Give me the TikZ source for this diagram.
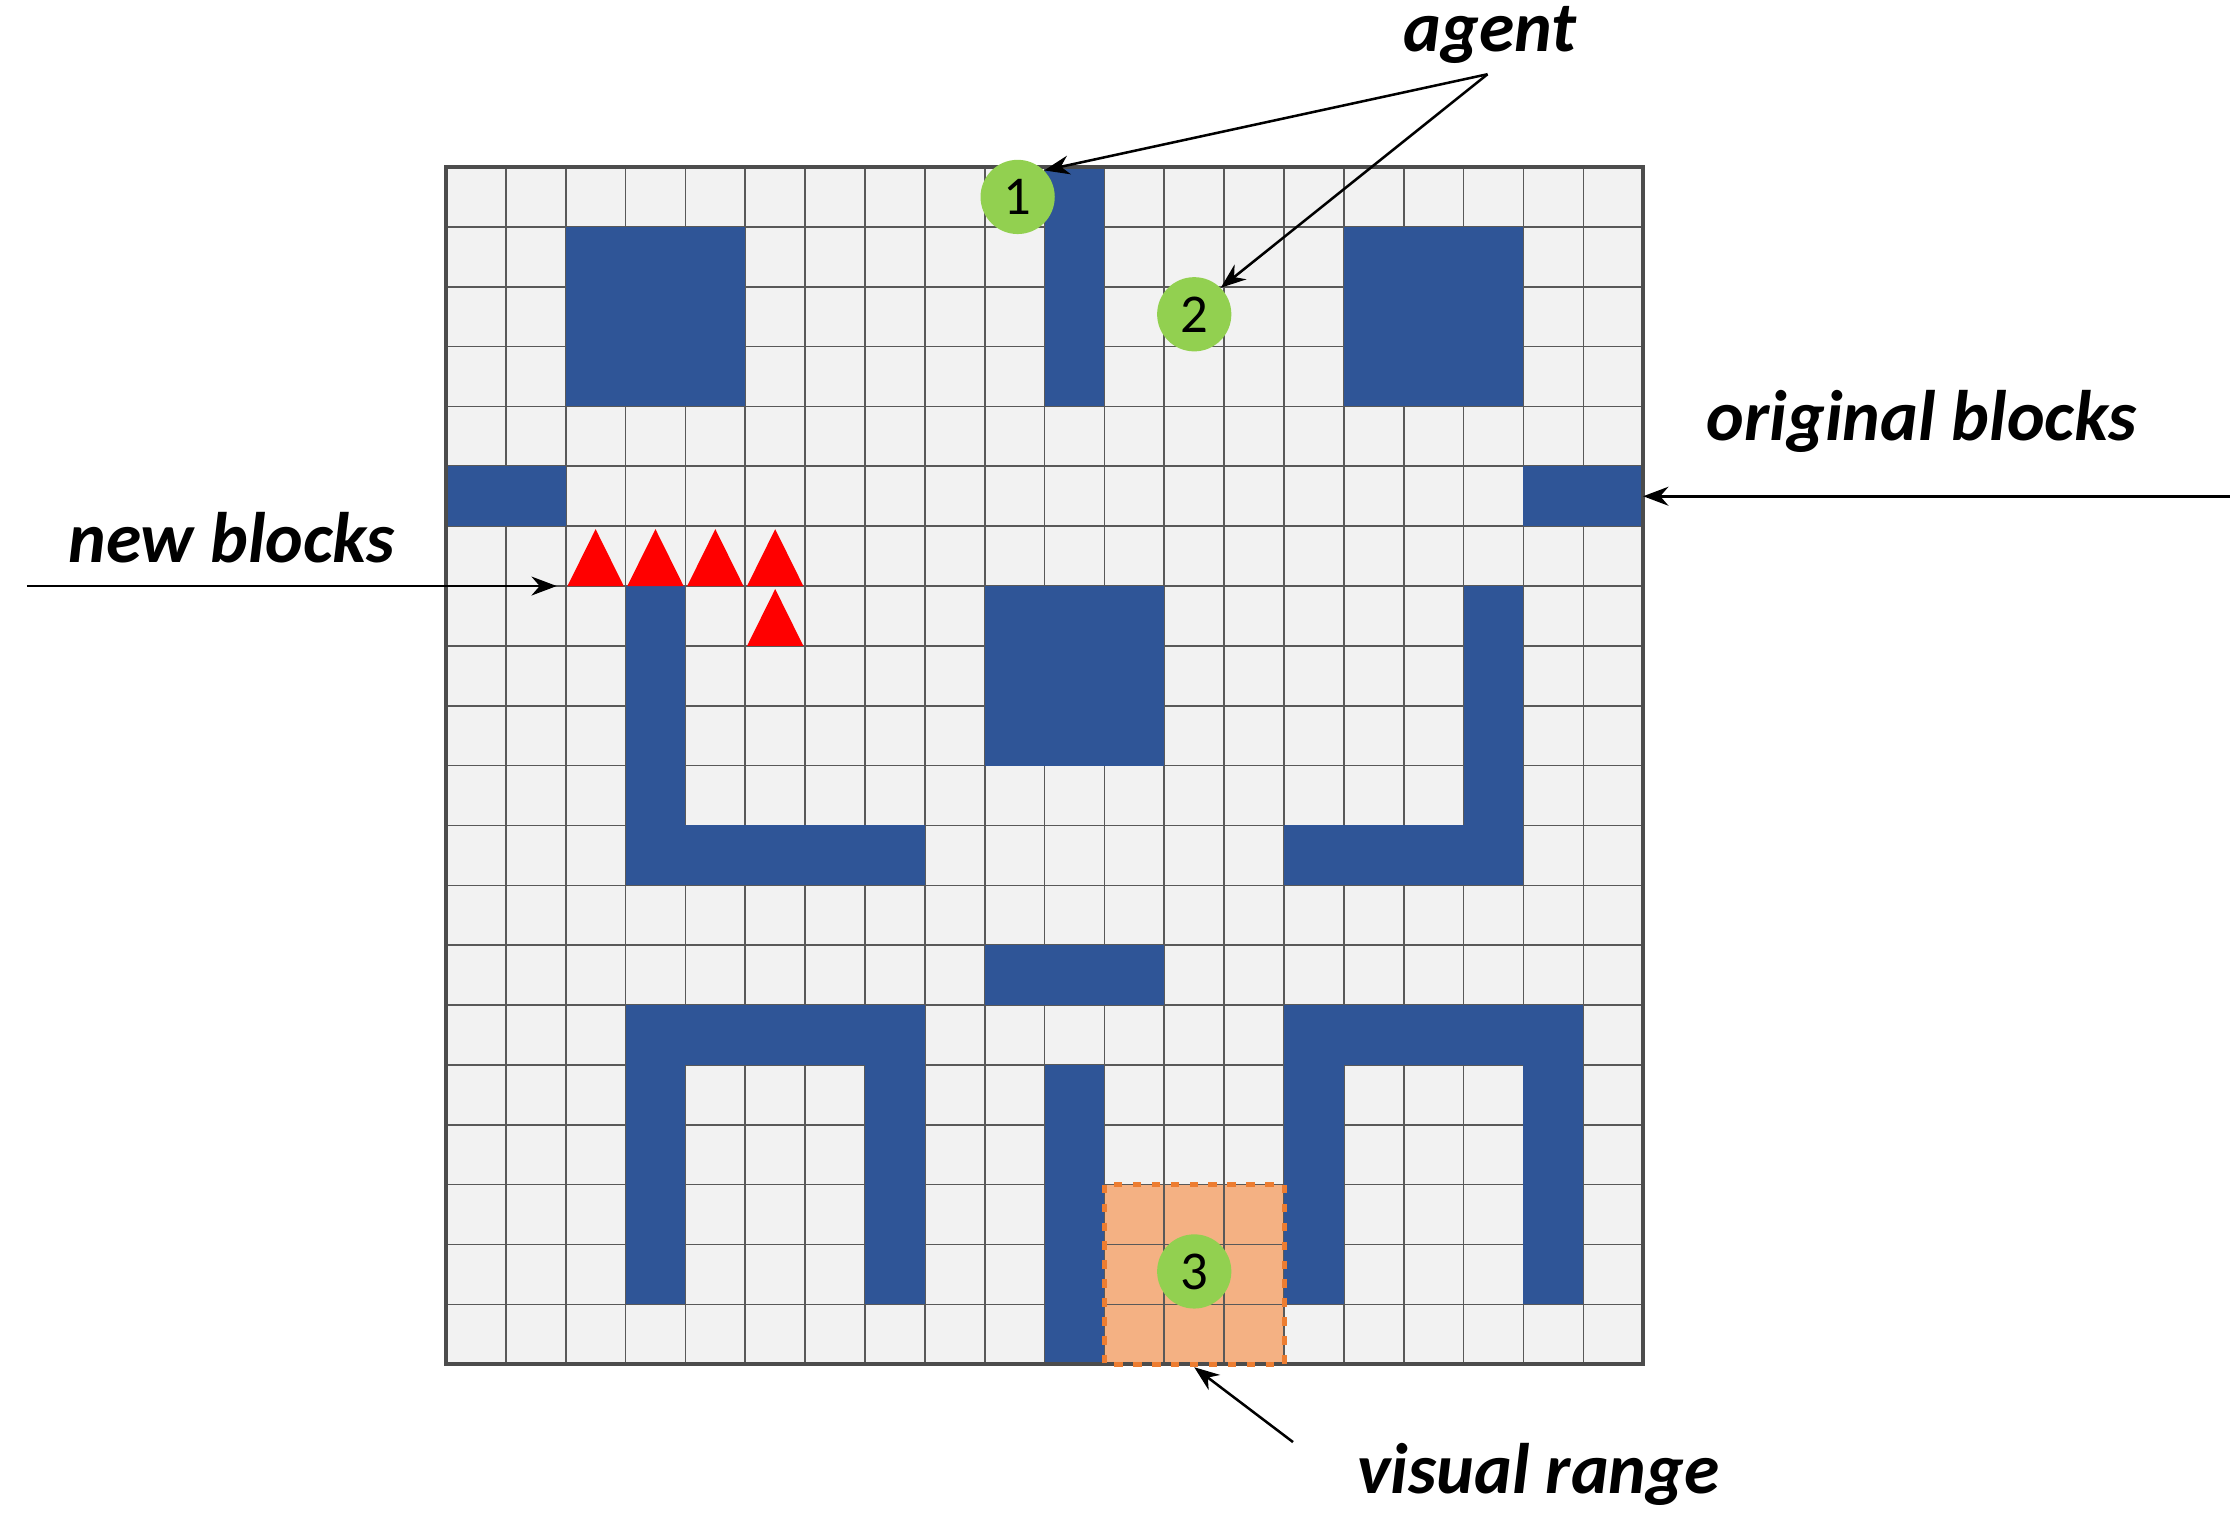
\documentclass[tikz,border=0pt]{standalone}
\usepackage{fontspec}
\setmainfont{Carlito}
\usetikzlibrary{arrows.meta}
\definecolor{cellbg}{HTML}{F2F2F2}
\definecolor{blk}{HTML}{2F5597}
\definecolor{agentg}{HTML}{92D050}
\definecolor{vis}{HTML}{F4B183}
\definecolor{visb}{HTML}{ED7D31}
\begin{document}
\begin{tikzpicture}[x=1cm,y=-1cm,
  block/.style={fill=blk,draw=none},
  newblk/.style={fill=red,draw=none},
  agent/.style={circle,fill=agentg,draw=none,minimum size=1.24cm,inner sep=0pt,font=\fontsize{26}{28}\selectfont},
  lbl/.style={font=\fontsize{34}{37}\selectfont\bfseries\itshape},
  arr/.style={-{Stealth[length=12pt,width=9pt]},line width=1.2pt}]
\useasboundingbox (-7.45,-2.79) rectangle (29.97,22.68);
% cells
\fill[cellbg] (0,0) rectangle (20,20);
\fill[vis] (11,17) rectangle (14,20);
% grid
\draw[gray!70!black,line width=0.8pt] (0,0) grid (20,20);
% blocks (x=col, y=row)
\fill[block] (2,1) rectangle (5,4);
\fill[block] (10,0) rectangle (11,4);
\fill[block] (15,1) rectangle (18,4);
\fill[block] (0,5) rectangle (2,6);
\fill[block] (18,5) rectangle (20,6);
\fill[block] (3,7) rectangle (4,12);
\fill[block] (3,11) rectangle (8,12);
\fill[block] (9,7) rectangle (12,10);
\fill[block] (17,7) rectangle (18,12);
\fill[block] (14,11) rectangle (18,12);
\fill[block] (9,13) rectangle (12,14);
\fill[block] (3,14) rectangle (8,15);
\fill[block] (3,14) rectangle (4,19);
\fill[block] (7,14) rectangle (8,19);
\fill[block] (10,15) rectangle (11,20);
\fill[block] (14,14) rectangle (19,15);
\fill[block] (14,14) rectangle (15,19);
\fill[block] (18,14) rectangle (19,19);
\draw[black!70,line width=2pt] (0,0) rectangle (20,20);
\draw[visb,line width=2.4pt,dash pattern=on 4pt off 5pt] (11,17) rectangle (14,20);
% new blocks
\foreach \c/\r in {2/6,3/6,4/6,5/6,5/7}
  \fill[newblk] (\c+0.03,\r+1) -- (\c+0.5,\r+0.05) -- (\c+0.97,\r+1) -- cycle;
% agents
\node[agent] (a1) at (9.55,0.5) {1};
\node[agent] (a2) at (12.5,2.46) {2};
\node[agent] (a3) at (12.5,18.45) {3};
% labels
\node[lbl] (lagent) at (17.44,-2.2) {agent};
\coordinate (agsrc) at (17.4,-1.55);
\draw[arr] (agsrc) -- (a1.north east);
\draw[arr] (agsrc) -- (a2.north east);
\node[lbl] (lorig) at (24.65,4.25) {original blocks};
\coordinate (origsrc) at (29.8,5.5);
\coordinate (origdst) at (20,5.5);
\draw[arr] (origsrc) -- (origdst);
\node[lbl] (lnew) at (-3.58,6.2) {new blocks};
\coordinate (newsrc) at (-7.0,7.0);
\coordinate (newdst) at (1.85,7.0);
\draw[arr] (newsrc) -- (newdst);
\node[lbl] (lvis) at (18.25,21.84) {visual range};
\coordinate (vissrc) at (14.15,21.3);
\coordinate (visdst) at (12.5,20.05);
\draw[arr] (vissrc) -- (visdst);
\end{tikzpicture}
\end{document}
